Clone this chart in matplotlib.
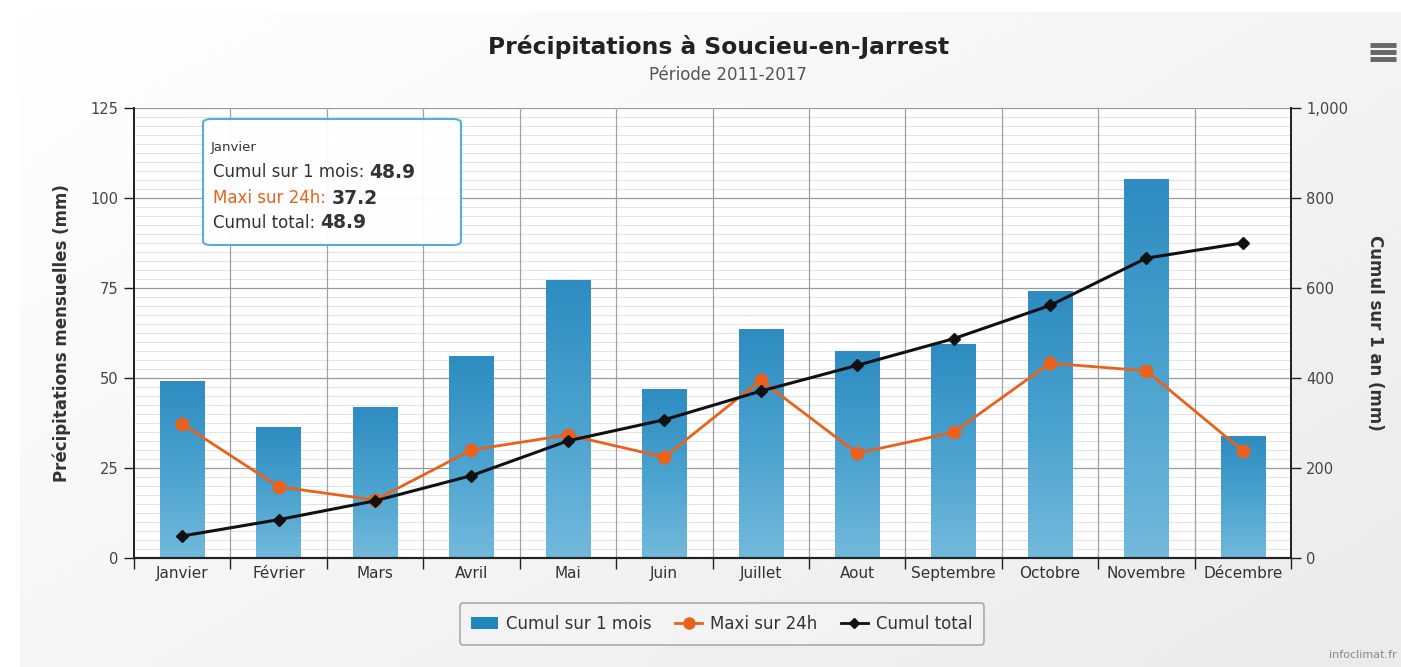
import matplotlib.pyplot as plt
import numpy as np
from matplotlib.patches import FancyBboxPatch, Rectangle
from matplotlib.lines import Line2D
from matplotlib.colors import LinearSegmentedColormap

plt.rcParams['font.family'] = ['DejaVu Sans']

# données mensuelles (mm)
mois = ['Janvier', 'Février', 'Mars', 'Avril', 'Mai', 'Juin', 'Juillet',
        'Aout', 'Septembre', 'Octobre', 'Novembre', 'Décembre']
cumul_mois = [48.9, 36.3, 41.8, 56.1, 77.2, 46.9, 63.6, 57.3, 59.2, 73.9, 105.2, 33.8]
maxi_24h = [37.2, 19.8, 16.1, 30.0, 34.2, 28.0, 49.4, 29.1, 34.9, 54.1, 52.0, 29.8]
cumul_total = [48.9, 85.2, 127.0, 183.1, 260.3, 307.2, 370.8, 428.1, 487.3, 561.2, 666.4, 700.2]

W, H = 1401, 667


def px(x, y):
    # pixels (origine en haut à gauche) -> fraction de la figure
    return x / W, 1 - y / H


fig = plt.figure(figsize=(W / 100, H / 100), dpi=100)
fig.patch.set_facecolor('white')

# fond du conteneur en dégradé
bg = fig.add_axes([0, 0, 1, 1], zorder=-10)
bg.set_axis_off()
gx = np.linspace(0, 1, 200)
gy = np.linspace(0, 1, 100)
grad = 0.55 * gx[None, :] + 0.45 * gy[:, None]
bg_cmap = LinearSegmentedColormap.from_list('bg', ['#ffffff', '#ebebeb'])
x0f, y0f = px(20, 667)
x1f, y1f = px(1401, 12)
bg.imshow(grad, extent=[x0f, x1f, y0f, y1f], cmap=bg_cmap, aspect='auto', origin='upper')
bg.set_xlim(0, 1)
bg.set_ylim(0, 1)

# zone de tracé
left, top = px(134, 108)
right, bottom = px(1291, 558)
ax = fig.add_axes([left, bottom, right - left, top - bottom])
ax.set_facecolor('white')
ax2 = ax.twinx()

n = len(mois)
x = np.arange(n)
ax.set_xlim(-0.5, n - 0.5)
ax.set_ylim(0, 125)
ax2.set_ylim(0, 1000)

# grille
for v in np.arange(2.5, 125, 2.5):
    if v % 25:
        ax.axhline(v, color='#e4e4e4', lw=0.8, zorder=0)
for v in range(25, 126, 25):
    ax.axhline(v, color='#9a9a9a', lw=0.9, zorder=0)
for b in np.arange(0.5, n - 0.5):
    ax.axvline(b, color='#a0a0a0', lw=0.9, zorder=0)

# barres en dégradé
bar_w = 0.46
bar_cmap = LinearSegmentedColormap.from_list('bar', ['#72b9dc', '#4aa2cf', '#2e8cc1'])
bars = ax.bar(x, cumul_mois, width=bar_w, color='none', zorder=2)
col = np.linspace(0, 1, 100)[:, None]
for rect in bars:
    bx, bw, bh = rect.get_x(), rect.get_width(), rect.get_height()
    ax.imshow(col, extent=[bx, bx + bw, 0, bh], cmap=bar_cmap, aspect='auto',
              origin='lower', zorder=2)
ax.set_xlim(-0.5, n - 0.5)
ax.set_ylim(0, 125)

orange = '#e8621e'
ax.plot(x, maxi_24h, color=orange, lw=2, marker='o', ms=9, zorder=4)
ax2.plot(x, cumul_total, color='#111111', lw=2.2, marker='D', ms=6.5, zorder=5)
ax2.set_zorder(ax.get_zorder() + 1)
ax2.patch.set_visible(False)

# axes
ax.set_yticks(range(0, 126, 25))
ax2.set_yticks(range(0, 1001, 200))
ax2.set_yticklabels(['0', '200', '400', '600', '800', '1,000'])
ax.set_xticks(np.arange(-0.5, n, 1))
ax.set_xticklabels([])
ax.set_xticks(x, minor=True)
ax.set_xticklabels(mois, minor=True)
ax.tick_params(axis='x', which='major', length=8, width=1, color='#222222')
ax.tick_params(axis='x', which='minor', length=0, pad=6, labelsize=11, labelcolor='#333333')
ax.tick_params(axis='y', length=7, width=1, color='#222222', labelsize=10.5,
               labelcolor='#444444', pad=4)
ax2.tick_params(axis='y', length=7, width=1, color='#222222', labelsize=10.5,
                labelcolor='#444444', pad=4)
for a in (ax, ax2):
    a.spines['top'].set_visible(False)
    a.spines['left'].set_color('#222222')
    a.spines['right'].set_color('#222222')
    a.spines['bottom'].set_color('#222222')
    a.spines['left'].set_linewidth(1.3)
    a.spines['right'].set_linewidth(1.3)
    a.spines['bottom'].set_linewidth(1.5)

fig.text(*px(62, 333), 'Précipitations mensuelles (mm)', rotation=90, ha='center',
         va='center', fontsize=12, fontweight='bold', color='#333333')
fig.text(*px(1375, 333), 'Cumul sur 1 an (mm)', rotation=270, ha='center',
         va='center', fontsize=12, fontweight='bold', color='#333333')

# titres
fig.text(*px(719, 47), 'Précipitations à Soucieu-en-Jarrest', ha='center', va='center',
         fontsize=16.8, fontweight='bold', color='#222222')
fig.text(*px(728, 75), 'Période 2011-2017', ha='center', va='center',
         fontsize=12, color='#555555')

# menu
for yy in (45, 52, 59):
    fig.add_artist(Line2D([1370 / W, 1396 / W], [1 - yy / H] * 2, color='#666666', lw=3.5,
                          solid_capstyle='butt'))

fig.text(*px(1397, 655), 'infoclimat.fr', ha='right', va='center', fontsize=8,
         color='#888888')

# infobulle
tx0, ty0 = px(203, 245)
tx1, ty1 = px(461, 119)
fig.add_artist(FancyBboxPatch((tx0, ty0), tx1 - tx0, ty1 - ty0,
                              boxstyle='round,pad=0,rounding_size=0.006',
                              transform=fig.transFigure, facecolor='#ffffff',
                              edgecolor='#4fa8d8', lw=1.5, alpha=0.95, zorder=20))
fig.text(*px(211, 147), mois[0], fontsize=9.5, color='#333333', va='center', zorder=21)
lignes = [('Cumul sur 1 mois: ', cumul_mois[0], '#333333', 172),
          ('Maxi sur 24h: ', maxi_24h[0], orange, 198),
          ('Cumul total: ', cumul_total[0], '#333333', 223)]
for lab, val, c, yy in lignes:
    t = fig.text(*px(213, yy), lab, fontsize=12, color=c, va='center', zorder=21)
    fig.canvas.draw()
    bb = t.get_window_extent()
    fig.text(bb.x1 / W, 1 - yy / H, f'{val:.1f}', fontsize=13.5, fontweight='bold',
             color='#333333', va='center', zorder=21)

# légende
handles = [Rectangle((0, 0), 1, 1, facecolor='#1f85bd', edgecolor='none'),
           Line2D([], [], color=orange, lw=2, marker='o', ms=8),
           Line2D([], [], color='#111111', lw=2, marker='D', ms=5.5)]
leg = fig.legend(handles, ['Cumul sur 1 mois', 'Maxi sur 24h', 'Cumul total'],
                 loc='center', bbox_to_anchor=px(722, 624), ncol=3, frameon=True,
                 fontsize=12, handlelength=1.6, handletextpad=0.5, columnspacing=1.4,
                 borderpad=0.7, fancybox=True)
leg.get_frame().set_edgecolor('#999999')
leg.get_frame().set_facecolor('#f4f4f4')
leg.get_frame().set_linewidth(1.2)
for t in leg.get_texts():
    t.set_color('#333333')

fig.savefig('out.png', dpi=100)
